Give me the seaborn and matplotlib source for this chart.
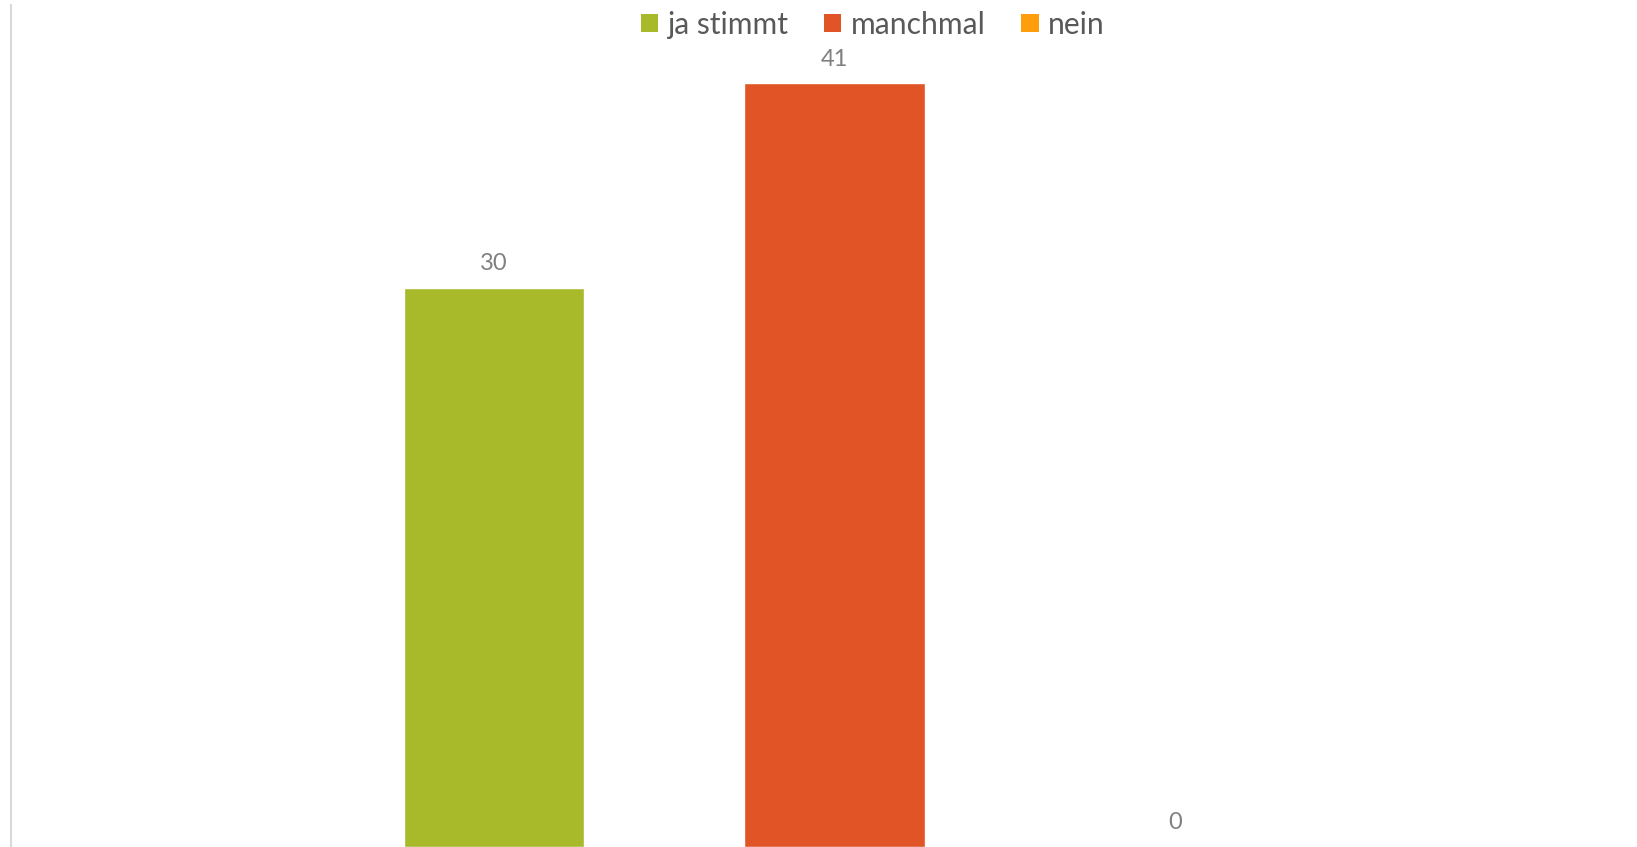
import seaborn as sns
import matplotlib
import matplotlib.pyplot as plt
import pandas as pd
from matplotlib.patches import Patch

matplotlib.use('Agg')

# data
answers = ["ja stimmt", "manchmal", "nein"]
counts = [30, 41, 0]
colors = ["#A8B929", "#E05426", "#FF9E0A"]

table = pd.DataFrame({"Antwort": answers, "Anzahl": counts})

sns.set_style("white")
plt.rcParams['font.family'] = ['Lato', 'DejaVu Sans']

fig = plt.figure(figsize=(16.37, 8.47), dpi=100)
ax = fig.add_axes([11 / 1637, 0, 1 - 11 / 1637, 842 / 847])

sns.barplot(
	data=table,
	x="Antwort",
	y="Anzahl",
	hue="Antwort",
	palette=colors,
	width=0.53,
	saturation=1,
	legend=False,
	ax=ax
)

ax.set_xlim(-1.418, 3.357)
ax.set_ylim(0, 45.2)

for i, v in enumerate(counts):
	ax.text(i, v + 1.3, str(v), ha="center", va="center", fontsize=17, color="#808080")

for side in ["top", "right", "bottom"]:
	ax.spines[side].set_visible(False)
ax.spines["left"].set_color("#D9D9D9")
ax.spines["left"].set_linewidth(1.5)
ax.set_xticks([])
ax.set_yticks([])
ax.set_xlabel("")
ax.set_ylabel("")

handles = [Patch(facecolor=c, edgecolor="none", label=a) for a, c in zip(answers, colors)]
fig.legend(
	handles=handles,
	loc="center",
	bbox_to_anchor=(0.533, 0.971),
	ncol=3,
	frameon=False,
	fontsize=21.6,
	labelcolor="#595959",
	handlelength=0.58,
	handleheight=0.58,
	handletextpad=0.3,
	columnspacing=1.2
)

fig.savefig("out.png", dpi=100)
